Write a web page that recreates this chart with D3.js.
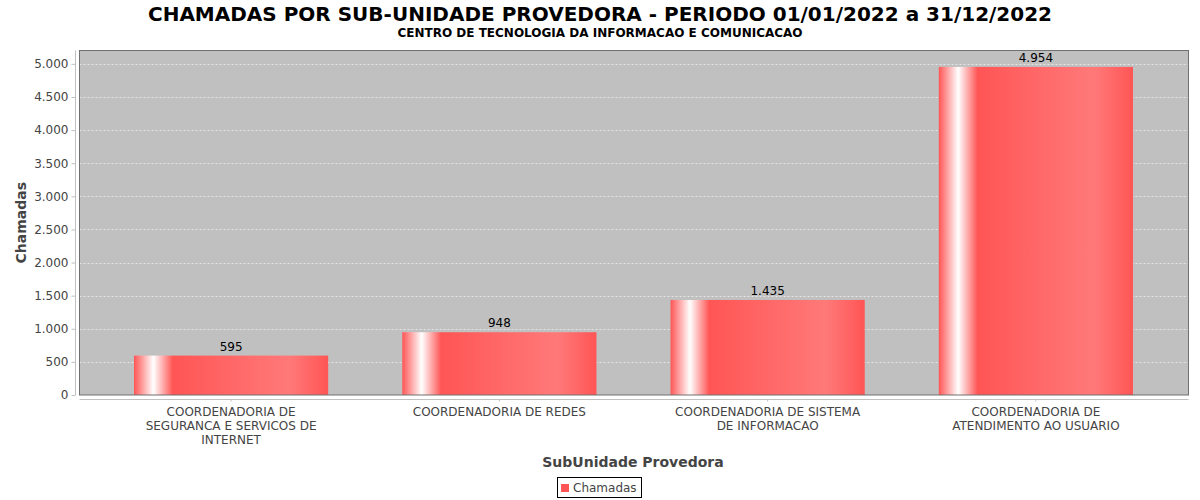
<!DOCTYPE html>
<html><head><meta charset="utf-8">
<script src="https://cdn.jsdelivr.net/npm/d3@7"></script>
<style>
body{margin:0;background:#fff;}
svg{display:block;font-family:"DejaVu Sans",sans-serif;}
</style></head>
<body><svg id="chart" width="1200" height="500"></svg>
<script>
const categories = [
  "COORDENADORIA DE SEGURANCA E SERVICOS DE INTERNET",
  "COORDENADORIA DE REDES",
  "COORDENADORIA DE SISTEMA DE INFORMACAO",
  "COORDENADORIA DE ATENDIMENTO AO USUARIO"
];
const categoryLines = [
  ["COORDENADORIA DE", "SEGURANCA E SERVICOS DE", "INTERNET"],
  ["COORDENADORIA DE REDES"],
  ["COORDENADORIA DE SISTEMA", "DE INFORMACAO"],
  ["COORDENADORIA DE", "ATENDIMENTO AO USUARIO"]
];
const values = [595, 948, 1435, 4954];
const yTicks = [0,500,1000,1500,2000,2500,3000,3500,4000,4500,5000];
const seriesName = "Chamadas";
const title = "CHAMADAS POR SUB-UNIDADE PROVEDORA - PERIODO 01/01/2022 a 31/12/2022";
const subtitle = "CENTRO DE TECNOLOGIA DA INFORMACAO E COMUNICACAO";
const xTitle = "SubUnidade Provedora";
const yTitle = "Chamadas";

const loc = d3.formatLocale({decimal:",", thousands:".", grouping:[3], currency:["",""]});
const fmt = loc.format(",d");

const svg = d3.select("#chart");
const P = {l:79.5, r:1188.5, t:50.5, b:395};

const x = d3.scaleBand().domain(categories).range([P.l + 54.5, P.r - 55.5]).paddingInner(74/268).paddingOuter(0);
const y = d3.scaleLinear().domain([0, d3.max(values)*1.05]).range([P.b, P.t]);

// gradient (JFreeChart GradientBarPainter style)
const c0 = "#FF5555", c1 = "#FF7979";
const defs = svg.append("defs");
const g = defs.append("linearGradient").attr("id","barGrad").attr("x1","0").attr("x2","1").attr("y1","0").attr("y2","0");
[[0,c0],[0.10,"#FFFFFF"],[0.20,c0],[0.80,c1],[1,c0]].forEach(([o,c])=>g.append("stop").attr("offset",o).attr("stop-color",c));

// title
svg.append("text").attr("x",600).attr("y",21).attr("text-anchor","middle")
  .attr("font-size",20).attr("font-weight","bold").attr("fill","#000").text(title);
svg.append("text").attr("x",600).attr("y",37).attr("text-anchor","middle")
  .attr("font-size",12).attr("font-weight","bold").attr("fill","#000").text(subtitle);

// plot background
svg.append("rect").attr("x",P.l).attr("y",P.t).attr("width",P.r-P.l).attr("height",P.b-P.t)
  .attr("fill","#C0C0C0");

// gridlines
svg.append("g").selectAll("line").data(yTicks.filter(d=>d>0)).join("line")
  .attr("x1",P.l).attr("x2",P.r).attr("y1",d=>Math.round(y(d))+0.5).attr("y2",d=>Math.round(y(d))+0.5)
  .attr("stroke","#FFFFFF").attr("stroke-width",0.6).attr("stroke-dasharray","2,2");

// bars
svg.append("g").selectAll("rect").data(values).join("rect")
  .attr("x",(d,i)=>x(categories[i])).attr("width",x.bandwidth())
  .attr("y",d=>y(d)).attr("height",d=>P.b-y(d))
  .attr("fill","url(#barGrad)");

// value labels
svg.append("g").selectAll("text").data(values).join("text")
  .attr("x",(d,i)=>x(categories[i])+x.bandwidth()/2).attr("y",d=>y(d)-5)
  .attr("text-anchor","middle").attr("font-size",12).attr("fill","#000").text(d=>fmt(d));

// plot outline
svg.append("rect").attr("x",P.l).attr("y",P.t).attr("width",P.r-P.l).attr("height",P.b-P.t)
  .attr("fill","none").attr("stroke","#707070").attr("stroke-width",1);

// y axis
const yAxis = d3.axisLeft(y).tickValues(yTicks).tickFormat(fmt).tickSize(4).tickPadding(3);
const ya = svg.append("g").attr("transform","translate(75.5,0)").call(yAxis);
ya.select(".domain").attr("stroke","#C0C0C0").attr("d",`M0,${P.t}V${P.b}`);
ya.selectAll(".tick line").attr("stroke","#C0C0C0");
ya.selectAll(".tick text").attr("font-size",12).attr("fill","#444").attr("font-family","DejaVu Sans");

// x axis
const xAxis = d3.axisBottom(x).tickSize(2).tickFormat("");
const xa = svg.append("g").attr("transform","translate(0,399.5)").call(xAxis);
xa.select(".domain").attr("stroke","#C0C0C0").attr("d",`M${P.l},0H${P.r}`);
xa.selectAll(".tick line").attr("stroke","#C0C0C0");
const labG = svg.append("g");
categories.forEach((c,i)=>{
  const cx = x(c)+x.bandwidth()/2;
  const t = labG.append("text").attr("x",cx).attr("y",415.5).attr("text-anchor","middle")
    .attr("font-size",12).attr("fill","#444");
  categoryLines[i].forEach((ln,j)=>t.append("tspan").attr("x",cx).attr("dy",j===0?0:14).text(ln));
});

// axis titles
svg.append("text").attr("x",633).attr("y",467).attr("text-anchor","middle")
  .attr("font-size",14).attr("font-weight","bold").attr("fill","#444").text(xTitle);
svg.append("text").attr("transform",`translate(26,${(P.t+P.b)/2}) rotate(-90)`).attr("text-anchor","middle")
  .attr("font-size",14).attr("font-weight","bold").attr("fill","#444").text(yTitle);

// legend
const lg = svg.append("g");
lg.append("rect").attr("x",557.5).attr("y",477.5).attr("width",84).attr("height",20)
  .attr("fill","#fff").attr("stroke","#000").attr("stroke-width",1);
lg.append("rect").attr("x",561).attr("y",484).attr("width",8).attr("height",8).attr("fill",c0);
lg.append("text").attr("x",573).attr("y",492).attr("font-size",12).attr("fill","#444").text(seriesName);
</script></body></html>
